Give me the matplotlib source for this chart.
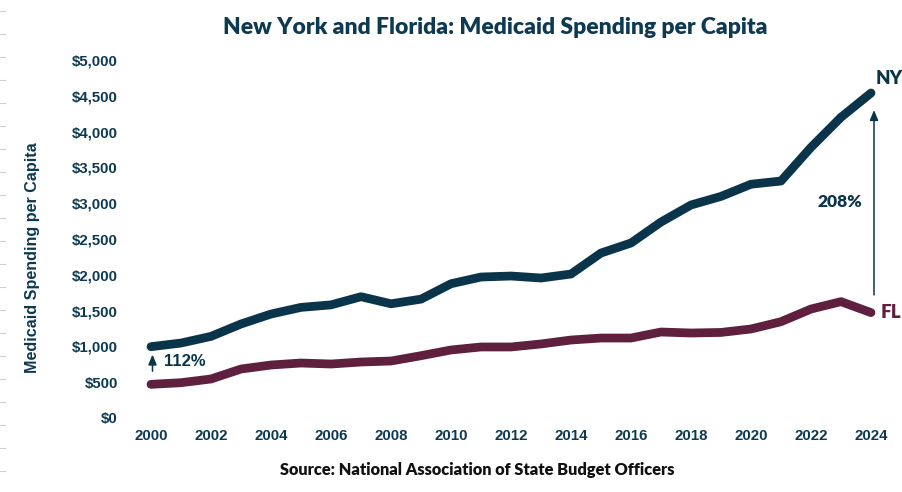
import matplotlib
matplotlib.use("Agg")
import matplotlib.pyplot as plt
from matplotlib.ticker import FuncFormatter

years = list(range(2000, 2025))
ny_spending = [996, 1047, 1140, 1313, 1452, 1545, 1580, 1694, 1595, 1660,
               1875, 1969, 1983, 1955, 2011, 2304, 2444, 2737, 2975, 3095,
               3265, 3310, 3780, 4200, 4539]
fl_spending = [470, 493, 545, 684, 740, 768, 754, 782, 796, 870,
               950, 992, 992, 1034, 1089, 1117, 1117, 1201, 1187, 1195,
               1243, 1345, 1522, 1625, 1472]
x_ticks = list(range(2000, 2025, 2))
y_ticks = list(range(0, 5001, 500))

NAVY = "#0a3449"
MAROON = "#5f1f3e"
TEXT = "#0d3a52"
TICK_FONT = "Liberation Sans"
TITLE_FONT = "Lato"

fig = plt.figure(figsize=(9.03, 4.92), dpi=100)
ax = fig.add_axes([136 / 903, 74 / 492, 750 / 903, 358 / 492])

ax.plot(years, ny_spending, color=NAVY, lw=6.3, solid_capstyle="round",
        solid_joinstyle="round", clip_on=False, zorder=3)
ax.plot(years, fl_spending, color=MAROON, lw=6.3, solid_capstyle="round",
        solid_joinstyle="round", clip_on=False, zorder=3)

ax.set_xlim(1999.5, 2024.5)
ax.set_ylim(0, 5000)
ax.set_xticks(x_ticks)
ax.set_yticks(y_ticks)
ax.yaxis.set_major_formatter(FuncFormatter(lambda v, p: f"${v:,.0f}"))
ax.tick_params(axis="y", length=0, pad=13, colors=TEXT)
ax.tick_params(axis="x", length=0, pad=8, colors=TEXT)
for lab in ax.get_xticklabels() + ax.get_yticklabels():
    lab.set_fontfamily(TICK_FONT)
    lab.set_fontweight("bold")
    lab.set_fontsize(10.8)
for s in ax.spines.values():
    s.set_visible(False)

ax.set_ylabel("Medicaid Spending per Capita", fontfamily=TICK_FONT,
              fontweight="bold", fontsize=11.6, color=TEXT)
# label sits a little below the middle of the plot in the original
ax.yaxis.set_label_coords(-0.128, 0.447)

# end labels
ax.annotate("NY", (years[-1], ny_spending[-1]), xytext=(3, 4),
            textcoords="offset points", fontfamily=TITLE_FONT, fontweight="heavy",
            fontsize=13.5, color=NAVY, va="bottom", ha="left")
ax.annotate("FL", (years[-1], fl_spending[-1]), xytext=(7, 0),
            textcoords="offset points", fontfamily=TITLE_FONT, fontweight="heavy",
            fontsize=13.5, color=MAROON, va="center", ha="left")

# gap arrows
ax.annotate("", xy=(years[-1] + 0.1, 4340), xytext=(years[-1] + 0.1, 1680),
            arrowprops=dict(arrowstyle="-|>,head_length=0.6,head_width=0.25",
                            color=NAVY, lw=1.1))
ax.text(years[-1] - 0.3, 3020, "208%", fontfamily=TITLE_FONT, fontweight="heavy",
        fontsize=12.5, color=NAVY, ha="right", va="center")

ax.annotate("", xy=(years[0] + 0.05, 925), xytext=(years[0] + 0.05, 615),
            arrowprops=dict(arrowstyle="-|>,head_length=0.6,head_width=0.25",
                            color=NAVY, lw=1.1))
ax.text(years[0] + 0.42, 796, "112%", fontfamily=TICK_FONT, fontweight="bold",
        fontsize=12, color=NAVY, ha="left", va="center")

fig.text(495 / 903, 1 - 28 / 492, "New York and Florida: Medicaid Spending per Capita",
         fontfamily=TITLE_FONT, fontweight="heavy", fontsize=16.5, color=TEXT,
         ha="center", va="center")
fig.text(477 / 903, 1 - 470 / 492, "Source: National Association of State Budget Officers",
         fontfamily=TITLE_FONT, fontweight="heavy", fontsize=11.8, color="#111111",
         ha="center", va="center")

# faint ruler marks along the left edge
for k in range(21):
    yy = 1 - (11 + 23 * k) / 492
    fig.add_artist(plt.Line2D([0, 5 / 903], [yy, yy], color="#d0d0d0", lw=0.8))

fig.savefig("out.png", dpi=100)
